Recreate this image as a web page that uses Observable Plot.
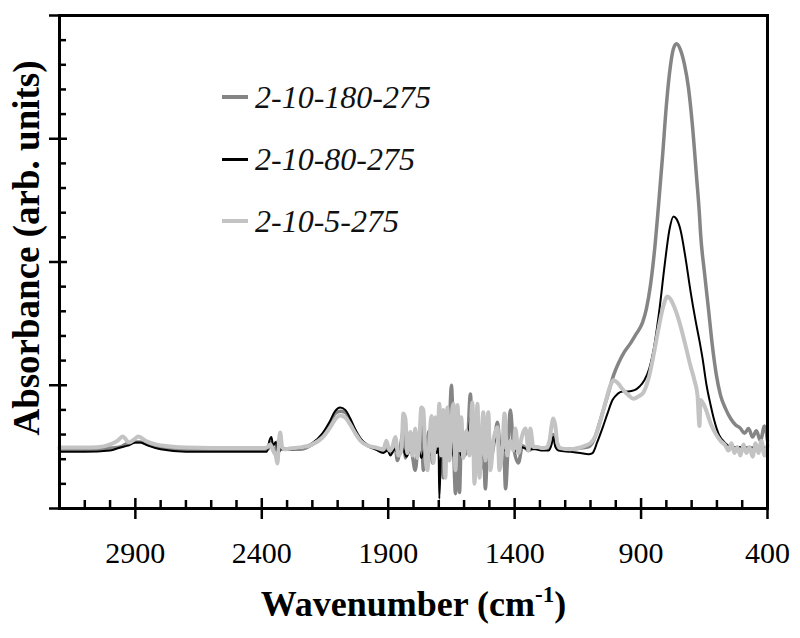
<!DOCTYPE html>
<html><head><meta charset="utf-8">
<script src="https://cdn.jsdelivr.net/npm/d3@7"></script>
<script src="https://cdn.jsdelivr.net/npm/@observablehq/plot@0.6"></script>
<style>
body{margin:0;background:#fff}
#wrap{position:relative;width:800px;height:638px}
#legend{position:absolute;left:222px;top:66px;font-family:"Liberation Serif","Times New Roman",serif;font-style:italic;font-size:32px;color:#111}
.row{display:flex;align-items:center;height:62px;white-space:nowrap}
.sw{width:26px;margin-right:7px}
</style></head>
<body><div id="wrap"></div>
<script>
// Tick values
const wnMajor = [2900, 2400, 1900, 1400, 900, 400];
const wnMinor = [3100, 3000, 2800, 2700, 2600, 2500, 2300, 2200, 2100, 2000, 1800, 1700, 1600, 1500, 1300, 1200, 1100, 1000, 800, 700, 600, 500];
const absMajor = [0, 1, 2, 3, 4];
const absMinor = [0.2, 0.4, 0.6, 0.8, 1.2, 1.4, 1.6, 1.8, 2.2, 2.4, 2.6, 2.8, 3.2, 3.4, 3.6, 3.8];

// Series names
const seriesNames = ["2-10-180-275", "2-10-80-275", "2-10-5-275"];

// [wavenumber, absorbance]
const s180 = [[3200,0.48],[3100,0.48],[3000,0.49],[2960,0.50],[2930,0.53],[2900,0.54],[2880,0.54],[2850,0.52],[2800,0.49],[2700,0.48],[2550,0.48],[2400,0.48],[2375,0.48],[2366,0.54],[2350,0.45],[2335,0.55],[2320,0.48],[2250,0.48],[2200,0.52],[2160,0.595],[2130,0.69],[2110,0.77],[2090,0.79],[2070,0.78],[2050,0.71],[2030,0.63],[2010,0.56],[1980,0.51],[1950,0.485],
[1919,0.47],[1903,0.50],[1887,0.45],[1872,0.50],[1864,0.39],[1852,0.50],[1840,0.63],[1832,0.41],[1820,0.51],[1808,0.47],[1793,0.31],[1781,0.55],[1769,0.67],[1761,0.31],[1749,0.51],[1737,0.63],[1725,0.37],[1713,0.67],[1701,0.47],[1694,0.75],[1682,0.25],[1670,0.63],[1658,0.71],[1650,1.00],[1642,0.55],[1634,0.12],[1626,0.63],[1618,0.13],[1611,0.55],[1599,0.43],[1587,0.51],[1575,0.93],[1567,0.55],[1555,0.43],[1543,0.63],[1535,0.31],[1524,0.55],[1516,0.16],[1504,0.59],[1492,0.43],[1480,0.55],[1468,0.70],[1456,0.47],[1444,0.55],[1436,0.16],[1425,0.55],[1417,0.80],[1405,0.51],[1385,0.37],[1369,0.51],[1345,0.47],[1322,0.50],[1294,0.48],
[1266,0.48],[1254,0.55],[1247,0.60],[1239,0.53],[1227,0.48],[1179,0.48],[1140,0.49],[1108,0.50],[1088,0.55],[1069,0.66],[1049,0.80],[1029,0.94],[1009,1.08],[989,1.18],[966,1.27],[942,1.34],[918,1.42],[894,1.51],[879,1.62],[863,1.81],[847,2.09],[831,2.46],[815,2.86],[800,3.27],[784,3.59],[772,3.73],[760,3.77],[744,3.72],[728,3.60],[713,3.42],[697,3.11],[681,2.70],[669,2.38],[665,2.24],[649,1.91],[633,1.61],[618,1.32],[602,1.08],[586,0.92],[566,0.81],[546,0.73],[527,0.68],[507,0.65],[491,0.61],[475,0.65],[459,0.58],[444,0.63],[428,0.55],[412,0.67],[400,0.55]];

const s80 = [[3200,0.46],[3100,0.46],[3000,0.47],[2960,0.495],[2930,0.51],[2900,0.535],[2880,0.535],[2850,0.51],[2800,0.48],[2700,0.46],[2400,0.46],[2380,0.46],[2370,0.55],[2362,0.58],[2355,0.51],[2345,0.54],[2335,0.45],[2320,0.49],[2300,0.48],[2250,0.487],[2200,0.53],[2160,0.61],[2130,0.71],[2110,0.79],[2090,0.82],[2070,0.80],[2050,0.73],[2030,0.64],[2010,0.57],[1980,0.51],[1950,0.48],
[1919,0.45],[1903,0.47],[1891,0.43],[1876,0.48],[1860,0.45],[1844,0.49],[1828,0.42],[1812,0.48],[1797,0.45],[1781,0.49],[1769,0.41],[1753,0.50],[1737,0.43],[1721,0.50],[1709,0.45],[1701,0.50],[1698,0.08],[1690,0.50],[1678,0.43],[1666,0.51],[1654,0.77],[1646,0.47],[1634,0.39],[1622,0.50],[1611,0.43],[1599,0.50],[1587,0.47],[1575,0.74],[1567,0.48],[1551,0.51],[1535,0.45],[1516,0.39],[1500,0.49],[1480,0.54],[1468,0.63],[1456,0.50],[1436,0.47],[1417,0.50],[1397,0.47],[1377,0.50],[1345,0.48],[1318,0.48],[1290,0.47],
[1266,0.47],[1254,0.52],[1247,0.58],[1239,0.50],[1227,0.47],[1179,0.46],[1140,0.45],[1108,0.44],[1092,0.45],[1073,0.54],[1053,0.65],[1033,0.77],[1013,0.88],[993,0.93],[974,0.95],[950,0.95],[926,0.96],[906,0.99],[887,1.04],[867,1.14],[847,1.33],[827,1.62],[807,1.97],[788,2.26],[772,2.37],[760,2.35],[744,2.26],[724,2.03],[705,1.77],[685,1.53],[669,1.36],[657,1.22],[641,1.00],[625,0.84],[610,0.71],[590,0.59],[566,0.53],[546,0.50],[507,0.50],[467,0.495],[428,0.50],[400,0.49]];

const s5 = [[3200,0.495],[3100,0.495],[3050,0.497],[2999,0.52],[2970,0.55],[2950,0.585],[2925,0.535],[2905,0.56],[2888,0.585],[2860,0.55],[2820,0.52],[2760,0.503],[2700,0.495],[2500,0.49],[2400,0.49],[2380,0.495],[2366,0.52],[2355,0.47],[2345,0.43],[2338,0.365],[2332,0.55],[2327,0.617],[2320,0.503],[2310,0.48],[2290,0.487],[2250,0.495],[2200,0.52],[2160,0.576],[2130,0.657],[2110,0.722],[2090,0.755],[2070,0.738],[2050,0.68],[2030,0.61],[2010,0.55],[1980,0.51],[1950,0.495],
[1919,0.48],[1907,0.55],[1895,0.47],[1883,0.50],[1872,0.58],[1860,0.43],[1848,0.47],[1840,0.77],[1832,0.73],[1824,0.45],[1812,0.62],[1804,0.43],[1793,0.65],[1785,0.41],[1777,0.55],[1769,0.82],[1761,0.80],[1753,0.43],[1745,0.31],[1737,0.55],[1729,0.75],[1721,0.37],[1713,0.74],[1705,0.51],[1698,0.85],[1690,0.43],[1682,0.80],[1674,0.25],[1666,0.82],[1658,0.39],[1650,0.71],[1642,0.85],[1634,0.31],[1626,0.84],[1618,0.47],[1611,0.74],[1603,0.41],[1591,0.63],[1579,0.43],[1567,0.86],[1559,0.20],[1547,0.85],[1539,0.25],[1531,0.55],[1524,0.78],[1516,0.39],[1504,0.78],[1496,0.31],[1484,0.55],[1468,0.66],[1460,0.31],[1448,0.51],[1440,0.77],[1429,0.43],[1417,0.55],[1405,0.47],[1397,0.65],[1385,0.45],[1373,0.57],[1357,0.65],[1345,0.47],[1338,0.65],[1326,0.50],[1310,0.50],[1294,0.49],
[1274,0.495],[1262,0.55],[1254,0.67],[1247,0.73],[1239,0.67],[1231,0.53],[1219,0.49],[1179,0.48],[1140,0.495],[1120,0.51],[1100,0.53],[1080,0.59],[1061,0.71],[1041,0.86],[1021,1.00],[1009,1.04],[993,1.02],[974,0.97],[950,0.92],[930,0.89],[910,0.91],[891,0.94],[871,1.05],[851,1.24],[831,1.46],[811,1.65],[796,1.72],[784,1.70],[764,1.61],[744,1.48],[724,1.32],[705,1.16],[689,1.04],[677,0.92],[669,0.67],[665,0.88],[645,0.81],[625,0.69],[606,0.61],[586,0.55],[566,0.51],[554,0.47],[542,0.53],[531,0.45],[519,0.50],[507,0.43],[495,0.52],[483,0.45],[471,0.50],[459,0.42],[447,0.53],[436,0.45],[424,0.55],[412,0.43],[400,0.51]];

const seriesColors = ["#858585", "#000000", "#c3c3c3"];
const seriesWidths = [3.5, 2, 4];
const seriesData = [s180, s80, s5];

const font = "'Liberation Serif','Times New Roman',serif";
const toRows = d => d.map(([wn, a]) => ({wn, a}));

const plot = Plot.plot({
  width: 800, height: 638,
  marginLeft: 59, marginRight: 33, marginTop: 15, marginBottom: 130,
  style: {fontFamily: font, background: "white", color: "black", overflow: "visible"},
  x: {domain: [3200, 400]},
  y: {domain: [0, 4]},
  marks: [
    ...seriesData.map((d, i) => Plot.line(toRows(d), {x: "wn", y: "a", stroke: seriesColors[i], strokeWidth: seriesWidths[i], strokeLinejoin: "round", curve: "monotone-x"})),
    Plot.frame({stroke: "black", strokeWidth: 3}),
    Plot.axisX(wnMajor, {anchor: "bottom", tickSize: 21, dy: -10, strokeWidth: 2.5, fill: "none", label: null}),
    Plot.axisX(wnMinor, {anchor: "bottom", tickSize: 8, dy: -8, strokeWidth: 2.5, fill: "none", label: null}),
    Plot.axisX(wnMajor, {anchor: "bottom", tickSize: 0, tickPadding: 33, fontSize: 30, label: null, tickFormat: d => String(d)}),
    Plot.axisY(absMajor, {anchor: "left", tickSize: 18, dx: 8, strokeWidth: 2.5, fill: "none", label: null}),
    Plot.axisY(absMinor, {anchor: "left", tickSize: 7, dx: 7, strokeWidth: 2.5, fill: "none", label: null}),
    Plot.text(["Wavenumber (cm"], {text: d => d, frameAnchor: "bottom", textAnchor: "middle", dy: 107, fontSize: 36, fontWeight: "bold"}),
    Plot.text(["Absorbance (arb. units)"], {text: d => d, frameAnchor: "left", textAnchor: "middle", rotate: -90, dx: -32, dy: -14, fontSize: 37, fontWeight: "bold"})
  ]
});

const wrap = document.getElementById("wrap");
wrap.appendChild(plot);

// superscript in x title
const t = Array.from(plot.querySelectorAll("text")).find(el => el.textContent === "Wavenumber (cm");
if (t) {
  const ns = "http://www.w3.org/2000/svg";
  const sup = document.createElementNS(ns, "tspan");
  sup.setAttribute("dy", "-14");
  sup.setAttribute("font-size", "23");
  sup.textContent = "-1";
  const close = document.createElementNS(ns, "tspan");
  close.setAttribute("dy", "14");
  close.textContent = ")";
  t.appendChild(sup); t.appendChild(close);
}

// legend inside plot
const legend = document.createElement("div");
legend.id = "legend";
seriesNames.forEach((name, i) => {
  const row = document.createElement("div");
  row.className = "row";
  const sw = document.createElement("span");
  sw.className = "sw";
  sw.style.height = (i === 1 ? 3 : 4) + "px";
  sw.style.background = seriesColors[i];
  const lab = document.createElement("span");
  lab.textContent = name;
  row.appendChild(sw); row.appendChild(lab);
  legend.appendChild(row);
});
wrap.appendChild(legend);
</script>
</body></html>
